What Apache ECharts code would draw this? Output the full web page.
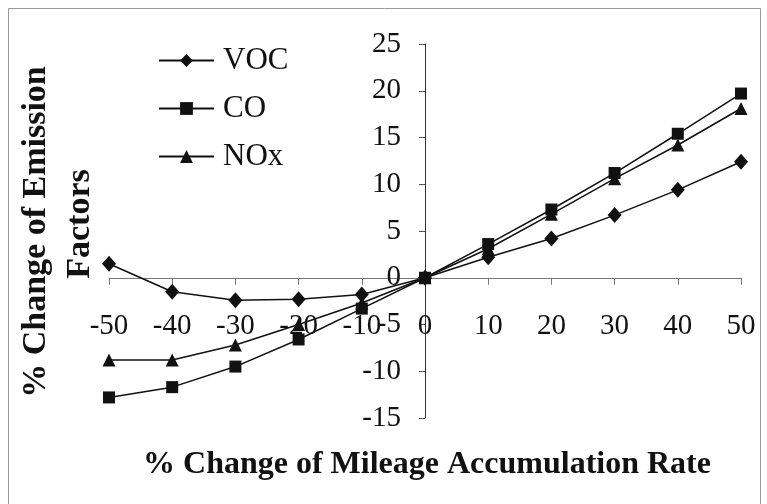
<!DOCTYPE html>
<html>
<head>
<meta charset="utf-8">
<script src="https://cdn.jsdelivr.net/npm/echarts@6/dist/echarts.min.js"></script>
<style>
  html, body { margin: 0; padding: 0; background: #fff; }
  #chart { width: 767px; height: 504px; }
</style>
</head>
<body>
<div id="chart"></div>
<script>
// % change of mileage accumulation rate (x) against % change of emission factors (y)
const rateChange = [-50, -40, -30, -20, -10, 0, 10, 20, 30, 40, 50];
const vocValues = [1.5, -1.5, -2.4, -2.3, -1.8, 0, 2.2, 4.2, 6.7, 9.4, 12.4];
const coValues  = [-12.8, -11.7, -9.5, -6.6, -3.3, 0, 3.6, 7.3, 11.2, 15.4, 19.7];
const noxValues = [-8.8, -8.8, -7.2, -5.0, -2.7, 0, 3.1, 6.8, 10.6, 14.2, 18.1];

const seriesNames = ['VOC', 'CO', 'NOx'];
const xTitle = '% Change of Mileage Accumulation Rate';
const yTitleLines = ['% Change of Emission', 'Factors'];

const serif = '"Liberation Serif", "Times New Roman", serif';

// plot area, and axis ranges; the axes cross at the origin
const W = 767, H = 504;
const gridBox = { left: 109, right: 26, top: 44, bottom: 86 };
const xRange = [-50, 50];
const yRange = [-15, 25];
const plotW = W - gridBox.left - gridBox.right;
const plotH = H - gridBox.top - gridBox.bottom;
// shift each axis from the grid edge onto the zero of the other axis
const yAxisShift = plotW * (0 - xRange[0]) / (xRange[1] - xRange[0]);
const xAxisShift = plotH * (0 - yRange[0]) / (yRange[1] - yRange[0]);

function pairs(values) {
  return rateChange.map((x, i) => [x, values[i]]);
}

function lineSeries(name, values, symbol, size) {
  return {
    name: name,
    type: 'line',
    data: pairs(values),
    symbol: symbol,
    symbolSize: size,
    showAllSymbol: true,
    lineStyle: { color: '#111', width: 1.5 },
    itemStyle: { color: '#111' },
    emphasis: { disabled: true },
    animation: false,
    z: 3
  };
}

const chart = echarts.init(document.getElementById('chart'), null, { renderer: 'canvas' });

chart.setOption({
  backgroundColor: '#fff',
  animation: false,
  grid: Object.assign({ containLabel: false }, gridBox),
  legend: {
    orient: 'vertical',
    left: 158,
    top: 45,
    padding: 0,
    itemWidth: 55,
    itemHeight: 16,
    itemGap: 17,
    data: seriesNames,
    textStyle: {
      fontFamily: serif,
      fontSize: 31,
      lineHeight: 31,
      color: '#111',
      padding: [0, 0, 0, 4]
    },
    selectedMode: false
  },
  xAxis: {
    type: 'value',
    min: xRange[0],
    max: xRange[1],
    interval: 10,
    position: 'bottom',
    offset: -xAxisShift,
    axisLine: { onZero: false, lineStyle: { color: '#777', width: 1 } },
    axisTick: { show: true, inside: false, length: 7, lineStyle: { color: '#777' } },
    axisLabel: {
      margin: 34,
      fontFamily: serif,
      fontSize: 29,
      color: '#111'
    },
    splitLine: { show: false }
  },
  yAxis: {
    type: 'value',
    min: yRange[0],
    max: yRange[1],
    interval: 5,
    position: 'left',
    offset: -yAxisShift,
    axisLine: { show: true, onZero: false, lineStyle: { color: '#333', width: 1 } },
    axisTick: { show: true, inside: false, length: 6, lineStyle: { color: '#555' } },
    axisLabel: {
      margin: 24,
      fontFamily: serif,
      fontSize: 29,
      color: '#111'
    },
    splitLine: { show: false }
  },
  series: [
    lineSeries(seriesNames[0], vocValues, 'diamond', [14, 16]),
    lineSeries(seriesNames[1], coValues, 'rect', 12),
    lineSeries(seriesNames[2], noxValues, 'triangle', 13)
  ],
  graphic: [
    {
      type: 'rect',
      shape: { x: 8.5, y: 8.5, width: 752, height: 520 },
      style: { fill: 'none', stroke: '#999', lineWidth: 1 },
      silent: true,
      z: 0
    },
    {
      type: 'text',
      x: 427,
      y: 465,
      style: {
        text: xTitle,
        fontFamily: serif,
        fontWeight: 'bold',
        fontSize: 32,
        fill: '#111',
        align: 'center',
        verticalAlign: 'middle'
      },
      silent: true
    },
    {
      type: 'text',
      x: 36,
      y: 232,
      rotation: Math.PI / 2,
      style: {
        text: yTitleLines[0],
        fontFamily: serif,
        fontWeight: 'bold',
        fontSize: 34,
        fill: '#111',
        align: 'center',
        verticalAlign: 'middle'
      },
      silent: true
    },
    {
      type: 'text',
      x: 80,
      y: 224,
      rotation: Math.PI / 2,
      style: {
        text: yTitleLines[1],
        fontFamily: serif,
        fontWeight: 'bold',
        fontSize: 34,
        fill: '#111',
        align: 'center',
        verticalAlign: 'middle'
      },
      silent: true
    }
  ]
});
</script>
</body>
</html>
